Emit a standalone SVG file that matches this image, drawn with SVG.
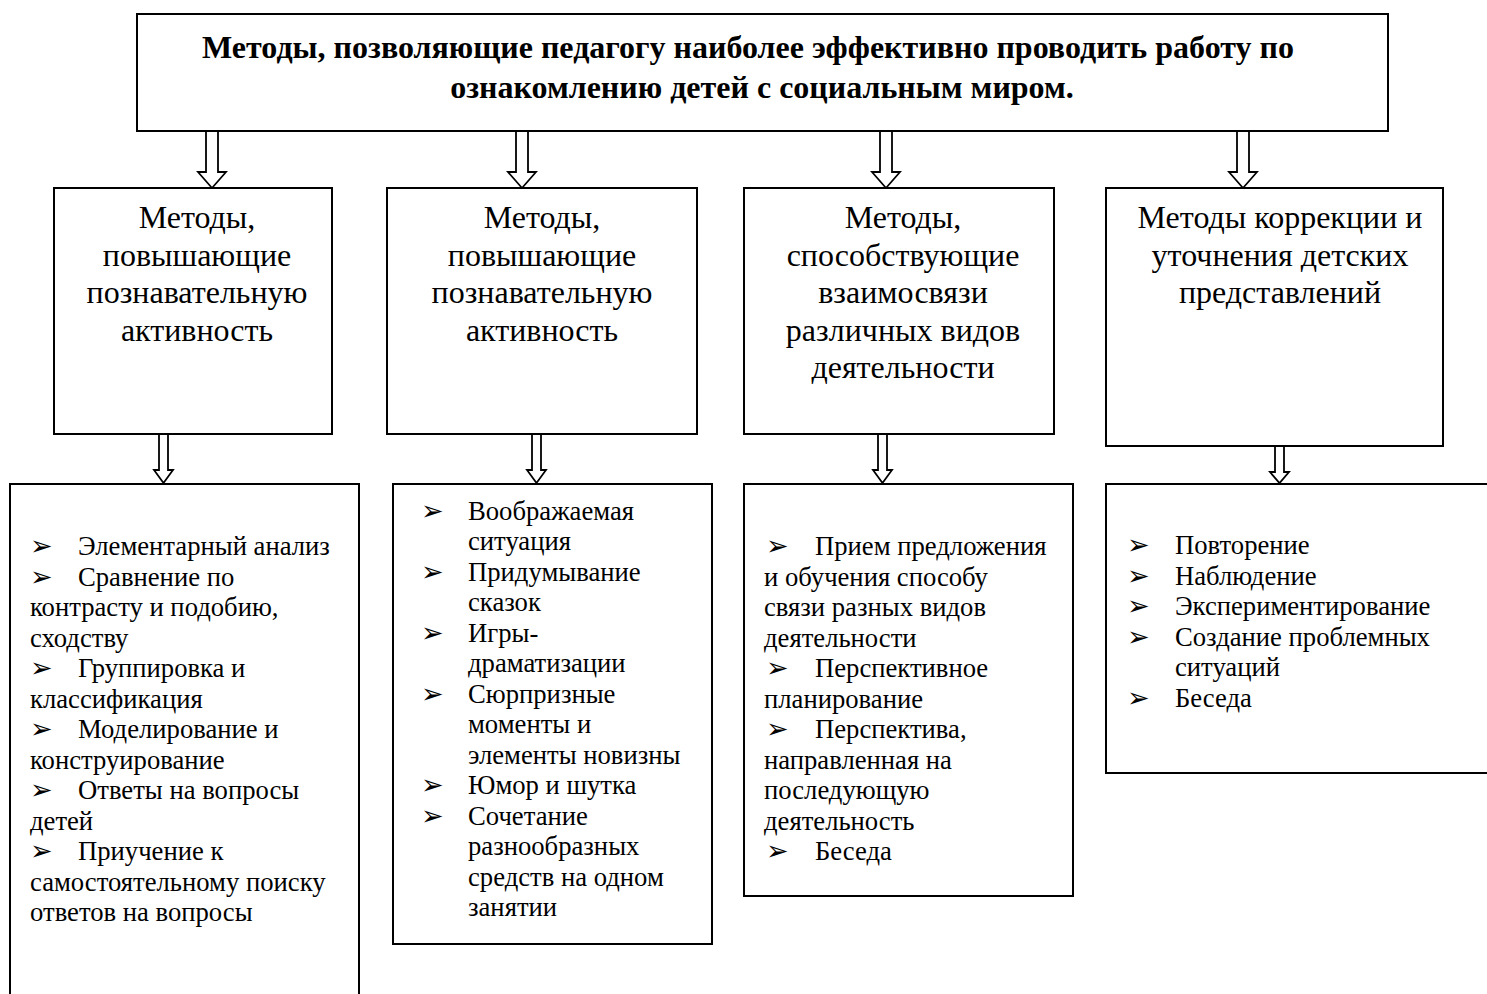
<svg xmlns="http://www.w3.org/2000/svg" width="1487" height="994" viewBox="0 0 1487 994">
<style>
.box{fill:#fff;stroke:#000;stroke-width:2}
.arr{fill:#fff;stroke:#000;stroke-width:1.8;stroke-linejoin:miter}
.t{font-family:"Liberation Serif","Times New Roman",serif;fill:#000}
.title{font-size:32px;font-weight:bold;text-anchor:middle}
.h{font-size:32px;text-anchor:middle}
.b{font-size:26.67px}
.bl{font-family:"DejaVu Sans",sans-serif;font-size:27px}
</style>
<rect width="1487" height="994" fill="#fff"/>
<g id="connectors">
<path class="arr" d="M206,131 L218,131 L218,172 L226,172 L212,188 L198,172 L206,172 Z"/>
<path class="arr" d="M516,131 L528,131 L528,172 L536,172 L522,188 L508,172 L516,172 Z"/>
<path class="arr" d="M880,131 L892,131 L892,172 L900,172 L886,188 L872,172 L880,172 Z"/>
<path class="arr" d="M1237,131 L1249,131 L1249,172 L1257,172 L1243,188 L1229,172 L1237,172 Z"/>
<path class="arr" d="M159,434 L168,434 L168,470 L173,470 L163.5,483 L154,470 L159,470 Z"/>
<path class="arr" d="M532,434 L541,434 L541,470 L546,470 L536.5,483 L527,470 L532,470 Z"/>
<path class="arr" d="M878,434 L887,434 L887,470 L892,470 L882.5,483 L873,470 L878,470 Z"/>
<path class="arr" d="M1275,446 L1284,446 L1284,472 L1289,472 L1279.5,483 L1270,472 L1275,472 Z"/>
</g>
<g id="top">
<rect class="box" x="137" y="14" width="1251" height="117"/>
<text class="t title" x="748" y="58">Методы, позволяющие педагогу наиболее эффективно проводить работу по</text>
<text class="t title" x="762" y="98">ознакомлению детей с социальным миром.</text>
</g>
<g id="m1">
<rect class="box" x="54" y="188" width="278" height="246"/>
<text class="t h" x="197" y="228">Методы,</text>
<text class="t h" x="197" y="265.5">повышающие</text>
<text class="t h" x="197" y="303">познавательную</text>
<text class="t h" x="197" y="340.5">активность</text>
</g>
<g id="m2">
<rect class="box" x="387" y="188" width="310" height="246"/>
<text class="t h" x="542" y="228">Методы,</text>
<text class="t h" x="542" y="265.5">повышающие</text>
<text class="t h" x="542" y="303">познавательную</text>
<text class="t h" x="542" y="340.5">активность</text>
</g>
<g id="m3">
<rect class="box" x="744" y="188" width="310" height="246"/>
<text class="t h" x="903" y="228">Методы,</text>
<text class="t h" x="903" y="265.5">способствующие</text>
<text class="t h" x="903" y="303">взаимосвязи</text>
<text class="t h" x="903" y="340.5">различных видов</text>
<text class="t h" x="903" y="378">деятельности</text>
</g>
<g id="m4">
<rect class="box" x="1106" y="188" width="337" height="258"/>
<text class="t h" x="1280" y="228">Методы коррекции и</text>
<text class="t h" x="1280" y="265.5">уточнения детских</text>
<text class="t h" x="1280" y="303">представлений</text>
</g>
<g id="l1">
<rect class="box" x="10" y="484" width="349" height="520"/>
<g class="bl"><text x="30" y="555">➢</text><text x="30" y="585.5">➢</text><text x="30" y="677">➢</text><text x="30" y="738">➢</text><text x="30" y="799">➢</text><text x="30" y="860">➢</text></g>
<g class="t b">
<text x="78" y="555">Элементарный анализ</text>
<text x="78" y="585.5">Сравнение по</text>
<text x="30" y="616">контрасту и подобию,</text>
<text x="30" y="646.5">сходству</text>
<text x="78" y="677">Группировка и</text>
<text x="30" y="707.5">классификация</text>
<text x="78" y="738">Моделирование и</text>
<text x="30" y="768.5">конструирование</text>
<text x="78" y="799">Ответы на вопросы</text>
<text x="30" y="829.5">детей</text>
<text x="78" y="860">Приучение к</text>
<text x="30" y="890.5">самостоятельному поиску</text>
<text x="30" y="921">ответов на вопросы</text>
</g>
</g>
<g id="l2">
<rect class="box" x="393" y="484" width="319" height="460"/>
<g class="bl"><text x="421" y="519.5">➢</text><text x="421" y="580.5">➢</text><text x="421" y="641.5">➢</text><text x="421" y="702.5">➢</text><text x="421" y="794">➢</text><text x="421" y="824.5">➢</text></g>
<g class="t b">
<text x="468" y="519.5">Воображаемая</text>
<text x="468" y="550">ситуация</text>
<text x="468" y="580.5">Придумывание</text>
<text x="468" y="611">сказок</text>
<text x="468" y="641.5">Игры-</text>
<text x="468" y="672">драматизации</text>
<text x="468" y="702.5">Сюрпризные</text>
<text x="468" y="733">моменты и</text>
<text x="468" y="763.5">элементы новизны</text>
<text x="468" y="794">Юмор и шутка</text>
<text x="468" y="824.5">Сочетание</text>
<text x="468" y="855">разнообразных</text>
<text x="468" y="885.5">средств на одном</text>
<text x="468" y="916">занятии</text>
</g>
</g>
<g id="l3">
<rect class="box" x="744" y="484" width="329" height="412"/>
<g class="bl"><text x="766" y="555">➢</text><text x="766" y="677">➢</text><text x="766" y="738">➢</text><text x="766" y="860">➢</text></g>
<g class="t b">
<text x="815" y="555">Прием предложения</text>
<text x="764" y="585.5">и обучения способу</text>
<text x="764" y="616">связи разных видов</text>
<text x="764" y="646.5">деятельности</text>
<text x="815" y="677">Перспективное</text>
<text x="764" y="707.5">планирование</text>
<text x="815" y="738">Перспектива,</text>
<text x="764" y="768.5">направленная на</text>
<text x="764" y="799">последующую</text>
<text x="764" y="829.5">деятельность</text>
<text x="815" y="860">Беседа</text>
</g>
</g>
<g id="l4">
<rect class="box" x="1106" y="484" width="390" height="289"/>
<g class="bl"><text x="1127" y="554">➢</text><text x="1127" y="584.5">➢</text><text x="1127" y="615">➢</text><text x="1127" y="645.5">➢</text><text x="1127" y="706.5">➢</text></g>
<g class="t b">
<text x="1175" y="554">Повторение</text>
<text x="1175" y="584.5">Наблюдение</text>
<text x="1175" y="615">Экспериментирование</text>
<text x="1175" y="645.5">Создание проблемных</text>
<text x="1175" y="676">ситуаций</text>
<text x="1175" y="706.5">Беседа</text>
</g>
</g>
</svg>
